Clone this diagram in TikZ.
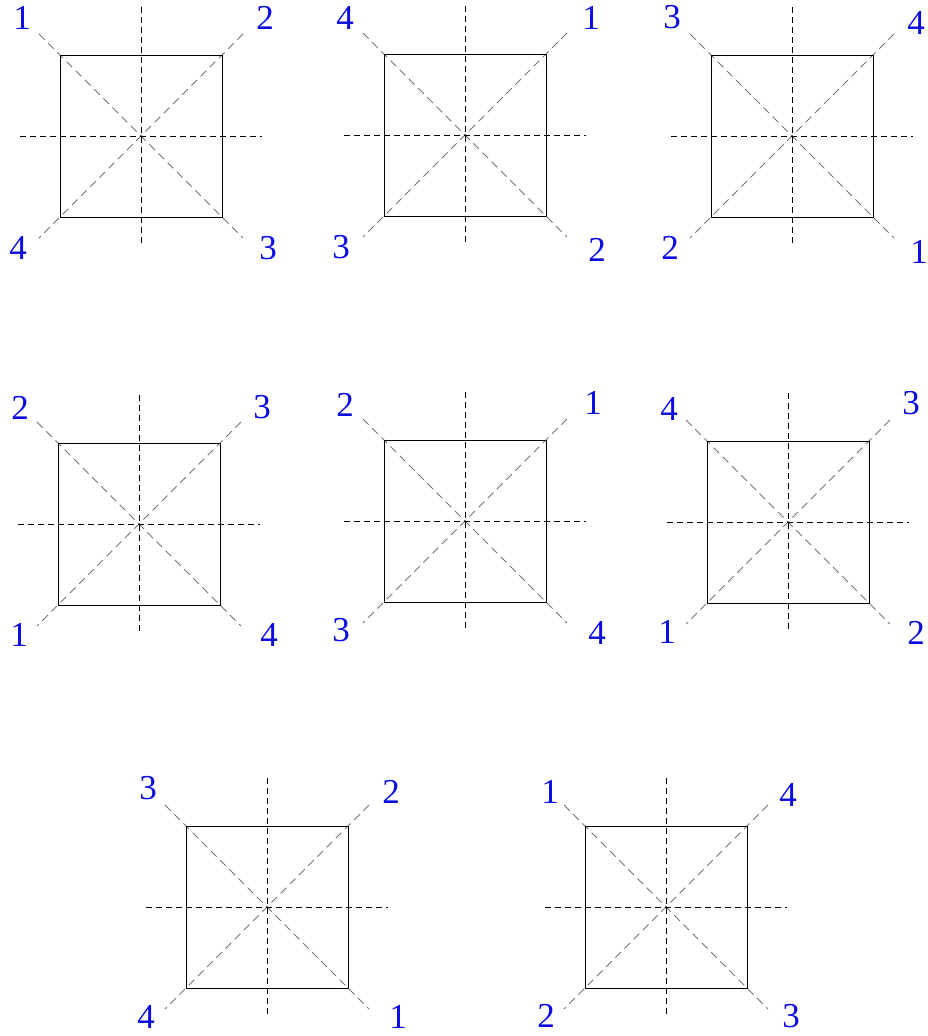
\documentclass[tikz,border=0pt]{standalone}
\usepackage{fontspec}
\setmainfont{Liberation Serif}
\definecolor{lblue}{RGB}{10,10,225}
\tikzset{
  sqbox/.style={draw=black, line width=0.9pt},
  axisline/.style={draw=black, dash pattern=on 6pt off 4pt, line width=0.9pt},
  diagline/.style={draw=black!55, dash pattern=on 8pt off 5pt, line width=0.9pt},
  numlabel/.style={text=lblue, font=\fontsize{35}{35}\selectfont, inner sep=0pt}
}
\newcommand\drawpanel[3]{%
  \coordinate (#1c) at (#2,#3);
  \coordinate (#1a) at (#2-81,#3-81);
  \coordinate (#1d) at (#2+81,#3+81);
  \coordinate (#1n) at (#2,#3-129);
  \coordinate (#1s) at (#2,#3+109);
  \coordinate (#1w) at (#2-121,#3);
  \coordinate (#1o) at (#2+121,#3);
  \coordinate (#1p) at (#2-102,#3-102);
  \coordinate (#1q) at (#2+102,#3-102);
  \coordinate (#1r) at (#2+102,#3+102);
  \coordinate (#1t) at (#2-102,#3+102);
  \draw[diagline] (#1p) -- (#1r);
  \draw[diagline] (#1q) -- (#1t);
  \draw[axisline] (#1n) -- (#1s);
  \draw[axisline] (#1w) -- (#1o);
  \draw[sqbox] (#1a) rectangle (#1d);
}
\begin{document}
\begin{tikzpicture}[x=1pt,y=-1pt]
\useasboundingbox (0,0) rectangle (927,1036);
\drawpanel{A}{141}{136}
\drawpanel{B}{465}{135}
\drawpanel{C}{792}{136}
\drawpanel{D}{139}{524}
\drawpanel{E}{465}{521}
\drawpanel{F}{788}{522}
\drawpanel{G}{267}{907}
\drawpanel{H}{666}{907}
% labels A
\node[numlabel] (A1) at (22,18) {1};
\node[numlabel] (A2) at (265,18) {2};
\node[numlabel] (A4) at (18,248) {4};
\node[numlabel] (A3) at (268,248) {3};
% B
\node[numlabel] (B4) at (345,18) {4};
\node[numlabel] (B1) at (591,18) {1};
\node[numlabel] (B3) at (341,247) {3};
\node[numlabel] (B2) at (597,250) {2};
% C
\node[numlabel] (C3) at (672,17) {3};
\node[numlabel] (C4) at (916,23) {4};
\node[numlabel] (C2) at (670,248) {2};
\node[numlabel] (C1) at (919,252) {1};
% D
\node[numlabel] (D2) at (20,408) {2};
\node[numlabel] (D3) at (262,407) {3};
\node[numlabel] (D1) at (19,635) {1};
\node[numlabel] (D4) at (269,635) {4};
% E
\node[numlabel] (E2) at (345,405) {2};
\node[numlabel] (E1) at (593,403) {1};
\node[numlabel] (E3) at (341,630) {3};
\node[numlabel] (E4) at (597,633) {4};
% F
\node[numlabel] (F4) at (669,409) {4};
\node[numlabel] (F3) at (911,403) {3};
\node[numlabel] (F1) at (667,632) {1};
\node[numlabel] (F2) at (916,633) {2};
% G
\node[numlabel] (G3) at (148,788) {3};
\node[numlabel] (G2) at (391,792) {2};
\node[numlabel] (G4) at (146,1017) {4};
\node[numlabel] (G1) at (398,1017) {1};
% H
\node[numlabel] (H1) at (550,792) {1};
\node[numlabel] (H4) at (788,795) {4};
\node[numlabel] (H2) at (546,1016) {2};
\node[numlabel] (H3) at (791,1016) {3};
\end{tikzpicture}
\end{document}
